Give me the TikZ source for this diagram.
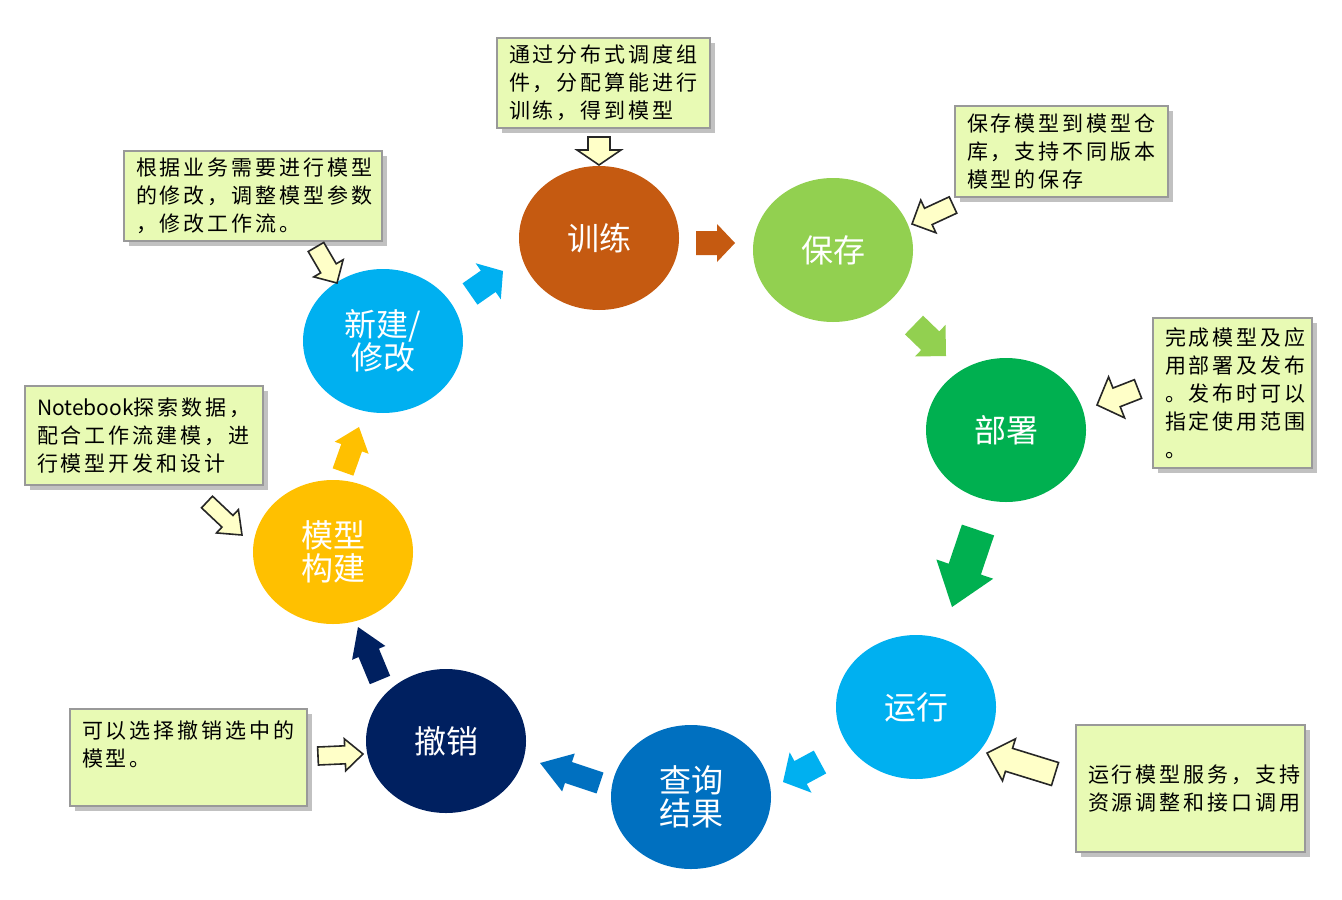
\documentclass[tikz,border=0pt]{standalone}
\usepackage{fontspec}
\setmainfont{Noto Sans CJK SC}
\newfontfamily\notefont[LetterSpace=14]{Noto Sans CJK SC}
\newfontfamily\plainfont{Noto Sans CJK SC}
\usetikzlibrary{calc,shapes.geometric,shadows}

\definecolor{cTrain}{HTML}{C55A11}
\definecolor{cSave}{HTML}{92D050}
\definecolor{cDeploy}{HTML}{00B050}
\definecolor{cRun}{HTML}{00B0F0}
\definecolor{cQuery}{HTML}{0070C0}
\definecolor{cUndo}{HTML}{002060}
\definecolor{cBuild}{HTML}{FFC000}
\definecolor{cNew}{HTML}{00B0F0}
\definecolor{noteFill}{RGB}{232,250,180}
\definecolor{hintFill}{RGB}{255,255,200}

% block arrow: style, tail, tip, shaft half width, head half width, head length
\newcommand{\blockarrow}[6]{%
  \fill[#1] ($(#2)!#4!90:(#3)$) -- ($(#3)!#6!(#2)!#4!-90:(#2)$)
    -- ($(#3)!#6!(#2)!#5!-90:(#2)$) -- (#3)
    -- ($(#3)!#6!(#2)!#5!90:(#2)$) -- ($(#3)!#6!(#2)!#4!90:(#2)$)
    -- ($(#2)!#4!-90:(#3)$) -- cycle;}

\tikzset{
  phase/.style={ellipse, minimum width=80pt, minimum height=72pt, inner sep=0pt,
    text=white, align=center, font=\fontsize{16}{16.5}\selectfont},
  note/.style={draw=gray!80, line width=1pt, fill=noteFill, align=left,
    inner xsep=6pt, inner ysep=0pt, font=\notefont\fontsize{10.5}{14}\selectfont,
    drop shadow={shadow xshift=2.5pt, shadow yshift=-2.5pt, fill=gray!70, opacity=0.7}},
  hint/.style={fill=hintFill, draw=black!85, line width=0.8pt, line join=miter}
}

\begin{document}
\begin{tikzpicture}[x=0.5pt, y=-0.5pt]
\useasboundingbox (0,0) rectangle (1342,899);

% phases of the cycle
\node[phase, fill=cTrain]  (train)  at (599,238) {训练};
\node[phase, fill=cSave]   (save)   at (833,250) {保存};
\node[phase, fill=cDeploy] (deploy) at (1006,430) {部署};
\node[phase, fill=cRun]    (run)    at (916,707) {运行};
\node[phase, fill=cQuery]  (query)  at (691,797) {查询\\结果};
\node[phase, fill=cUndo]   (undo)   at (446,741) {撤销};
\node[phase, fill=cBuild]  (build)  at (333,552) {模型\\构建};
\node[phase, fill=cNew]    (new)    at (383,341) {新建/\\修改};

% arrows of the cycle
\coordinate (c1t) at (470,294);  \coordinate (c1h) at (503,271);
\coordinate (c2t) at (696,243);  \coordinate (c2h) at (735,243);
\coordinate (c3t) at (914,325);  \coordinate (c3h) at (946,356);
\coordinate (c4t) at (978,530);  \coordinate (c4h) at (952,607);
\coordinate (c5t) at (820,762);  \coordinate (c5h) at (783,782);
\coordinate (c6t) at (600,783);  \coordinate (c6h) at (540,763);
\coordinate (c7t) at (380,680);  \coordinate (c7h) at (358,627);
\coordinate (c8t) at (343,472);  \coordinate (c8h) at (359,427);
\blockarrow{cNew}{c1t}{c1h}{6.5pt}{11pt}{9pt}
\blockarrow{cTrain}{c2t}{c2h}{6pt}{9.5pt}{9pt}
\blockarrow{cSave}{c3t}{c3h}{6.5pt}{11pt}{11pt}
\blockarrow{cDeploy}{c4t}{c4h}{8.5pt}{15pt}{20pt}
\blockarrow{cRun}{c5t}{c5h}{6.5pt}{11.5pt}{10pt}
\blockarrow{cQuery}{c6t}{c6h}{5.5pt}{10pt}{15pt}
\blockarrow{cUndo}{c7t}{c7h}{5.5pt}{9pt}{14pt}
\blockarrow{cBuild}{c8t}{c8h}{5.5pt}{9pt}{11pt}

% notes
\node[note, text width=94.5pt, minimum height=45pt] (trainNote) at (603.5,83)
  {通过分布式调度组\\件，分配算能进行\\训练，得到模型};
\node[note, text width=117pt, minimum height=45pt] (newNote) at (253,196)
  {根据业务需要进行模型\\的修改，调整模型参数\\，修改工作流。};
\node[note, text width=94.5pt, minimum height=45.5pt] (saveNote) at (1061.5,151.5)
  {保存模型到模型仓\\库，支持不同版本\\模型的保存};
\node[note, text width=67.5pt, minimum height=75pt] (deployNote) at (1232.5,393)
  {完成模型及应\\用部署及发布\\。发布时可以\\指定使用范围\\。};
\node[note, text width=107pt, minimum height=49.5pt] (buildNote) at (144,435.5)
  {{\plainfont Notebook}探索数据，\\配合工作流建模，进\\行模型开发和设计};
\node[note, text width=106.5pt, minimum height=48.5pt] (undoNote) at (188.5,757.5)
  {可以选择撤销选中的\\模型。\\\mbox{}};
\node[note, text width=102.5pt, minimum height=63.5pt] (runNote) at (1190.5,788.5)
  {运行模型服务，支持\\资源调整和接口调用};

% hints from the notes
\coordinate (a1t) at (599,137);  \coordinate (a1h) at (599,165);
\coordinate (a2t) at (316,247);  \coordinate (a2h) at (337,283);
\coordinate (a3t) at (953,205);  \coordinate (a3h) at (912,224);
\coordinate (a4t) at (1138,389); \coordinate (a4h) at (1097,405);
\coordinate (a5t) at (207,502);  \coordinate (a5h) at (242,535);
\coordinate (a6t) at (318,756);  \coordinate (a6h) at (363,754);
\coordinate (a7t) at (1055,774); \coordinate (a7h) at (987,753);
\blockarrow{hint}{a1t}{a1h}{5.5pt}{11pt}{7.5pt}
\blockarrow{hint}{a2t}{a2h}{4.5pt}{8.5pt}{8.5pt}
\blockarrow{hint}{a3t}{a3h}{4.5pt}{9pt}{9pt}
\blockarrow{hint}{a4t}{a4h}{5pt}{11pt}{10.5pt}
\blockarrow{hint}{a5t}{a5h}{4pt}{8pt}{10pt}
\blockarrow{hint}{a6t}{a6h}{4.5pt}{8pt}{9pt}
\blockarrow{hint}{a7t}{a7h}{6pt}{11pt}{11.5pt}
\end{tikzpicture}
\end{document}
